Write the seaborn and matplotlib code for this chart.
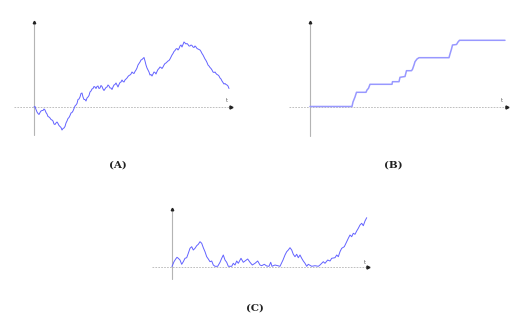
import matplotlib
matplotlib.use("Agg")
import matplotlib.pyplot as plt
import seaborn as sns

# Panel A: Brownian path (time, value)
a_t = list(range(0, 196))
a_v = [0, 0.5, -2.5, -5, -6.5, -7.5, -5.5, -4, -3.5, -3.5,
       -2, -3, -5.5, -7, -9.5, -10, -11, -12.5, -13, -14,
       -17, -17.5, -16, -15, -16.5, -18.5, -19.5, -20.5, -23, -21.5,
       -21, -19.5, -16, -14, -11.5, -10.5, -8.5, -6, -5.5, -4,
       -1.5, 1, 2, 3.5, 7.5, 8, 10, 13.5, 14, 10,
       7.5, 7.5, 6, 9, 10, 11.5, 15, 16, 18, 18.5,
       20.5, 20, 18.5, 20.5, 21, 18.5, 19, 21.5, 20.5, 18,
       16.5, 18, 19.5, 20, 22, 21, 19, 19, 17.5, 20,
       22, 22.5, 24, 22, 20, 22.5, 24.5, 25, 27, 25.5,
       25, 27, 28, 29, 30.5, 31.5, 32, 33, 35, 34,
       33.5, 35.5, 37, 39, 42, 43.5, 45, 47, 47.5, 48.5,
       49.5, 46, 42, 39, 37, 35, 32, 32.5, 31, 33,
       35, 34.5, 33, 35.5, 37.5, 38.5, 40, 39.5, 38.5, 40,
       42, 43.5, 44, 45, 46, 46.5, 48, 50, 52, 53.5,
       55.5, 56.5, 58, 58.5, 57, 58.5, 61, 62, 60, 62.5,
       65, 64, 63, 63.5, 62.5, 61, 61, 62, 61.5, 60,
       59.5, 61, 60, 58.5, 58, 57.5, 57, 55.5, 53.5, 52,
       50, 48, 46.5, 44.5, 42, 41, 39.5, 38.5, 37, 35,
       34.5, 35, 33.5, 32.5, 32, 31, 29, 28, 26, 24.5,
       23, 23.5, 22.5, 22, 21, 18.5]

# Panel B: running maximum
b_t = [0, 42, 43, 45, 46.5, 56, 57, 58.5, 60, 82, 82.5, 89, 90, 95, 96.5, 101.5, 102.5,
       104, 105, 107, 109, 139, 140, 141.5, 142.5, 146.5, 148, 149.5, 195]
b_v = [0.5, 0.5, 5, 10, 14.7, 14.7, 17, 18.7, 22.7, 22.7, 25.3, 25.3, 29.7, 30.5, 36.3, 36.3, 37.7,
       42, 45.3, 48, 49.3, 49.3, 53, 58, 62, 62.5, 65, 66.7, 66.7]

# Panel C: reflected path
c_t = [0, 2, 3.7, 5, 6.3, 8, 9.7, 11.3, 13, 14.7, 16.3, 18, 19.7, 21.3, 23, 24.7, 26.3, 28, 29.7, 31.3,
       33, 34.7, 36.3, 38, 39.7, 41.3, 43, 45.7, 48, 49.7, 51.3, 53, 54.7, 56.3, 59.7, 61.3, 63, 64.7, 66.3, 69,
       71.3, 73, 75.7, 78, 80.3, 83, 85.7, 88, 89.7, 92.3, 94.7, 97, 98.7, 100, 103, 108, 111, 113, 114.7, 116.3,
       118, 119.7, 121.3, 123, 124.7, 126.3, 128, 129.7, 131.3, 133, 134.7, 136.3, 139.7, 143, 146.3, 148, 151.3, 153, 155.7, 158,
       159.7, 163, 164.7, 166.3, 168, 169.7, 172.3, 174.7, 176.3, 178, 179.7, 181.3, 183, 184.7, 186.3, 188, 189.7, 191.3, 193, 194.7]
c_v = [0, 4.8, 7.5, 9.2, 8.2, 6.5, 2.2, 4.8, 8.2, 8.8, 13.2, 18.2, 19.8, 16.5, 18.2, 20.8, 22.2, 24.8, 23.2, 18.8,
       14.8, 9.8, 7.5, 4.8, 5.5, 1.5, 0.2, 0.2, 4.2, 8.2, 11.5, 6.5, 4.2, 0.2, 0.2, 3.2, 1.5, 5.5, 3.2, 8.2,
       4.2, 5.5, 7.5, 4.2, 1.5, 3.2, 5.5, 1.5, 0.8, 2.2, 0.5, 0.2, 4.2, 0.2, 1.5, 0.2, 6.5, 11.5, 14.8, 16.5,
       18.8, 16.5, 12.2, 9.8, 12.2, 8.8, 11.5, 8.2, 5.5, 3.2, 0.2, 2.2, 0.2, 0.8, 0.2, 1.5, 4.8, 3.2, 6.5, 5.5,
       8.2, 8.8, 11.5, 9.8, 14.8, 18.2, 19.8, 24.8, 28.2, 31.5, 29.8, 33.2, 32.2, 35.5, 38.2, 41.5, 43.2, 40.8, 45.5, 48.8]

panel_labels = ["(A)", "(B)", "(C)"]

W, H = 520, 322
sns.set_theme(style="white")
fig = plt.figure(figsize=(W / 100, H / 100), dpi=100)
fig.patch.set_facecolor("white")

AXIS_GREY = "#b4b4b4"
LINE_BLUE = "#6262ff"


def make_panel(ox, oy, xa, xb, ya, yb, yaxis, xaxis, tpos, t, v, color, lw):
    ax = fig.add_axes([xa / W, 1 - yb / H, (xb - xa) / W, (yb - ya) / H])
    ax.set_xlim(xa - ox, xb - ox)
    ax.set_ylim(oy - yb, oy - ya)
    ax.axis("off")
    ax.plot([0, 0], [yaxis[0], yaxis[1]], color=AXIS_GREY, lw=0.8, zorder=1)
    ax.plot([xaxis[0], xaxis[1]], [0, 0], color=AXIS_GREY, lw=0.6, ls=(0, (2, 1.5)), zorder=1)
    ax.plot([xaxis[1]], [0], marker=">", color="#222222", markersize=2.2, zorder=3)
    ax.plot([0], [yaxis[1]], marker="^", color="#222222", markersize=1.8, zorder=3)
    ax.text(tpos[0], tpos[1], "t", fontsize=3.5, color="#555555", ha="center", va="center")
    sns.lineplot(x=t, y=v, ax=ax, color=color, lw=lw, estimator=None, sort=False, zorder=2)
    return ax


make_panel(34, 107, 8, 240, 15, 142, (-28, 85), (-20, 197), (193, 7), a_t, a_v, LINE_BLUE, 0.7)
make_panel(310, 107, 284, 514, 15, 142, (-29, 85), (-21, 196.5), (192, 7), b_t, b_v, "#9898ff", 1.1)
make_panel(172, 266.5, 146, 376, 203, 284, (-12.5, 57.5), (-20, 195.5), (192.5, 4.5), c_t, c_v, LINE_BLUE, 0.7)

label_pos = [(118, 165), (393, 165), (255, 308)]
for lab, (px, py) in zip(panel_labels, label_pos):
    fig.text(px / W, 1 - py / H, lab, fontsize=7.5, family="DejaVu Serif", fontweight="bold",
             ha="center", va="center", color="#222222")

fig.savefig("out.png", dpi=100, facecolor="white")
